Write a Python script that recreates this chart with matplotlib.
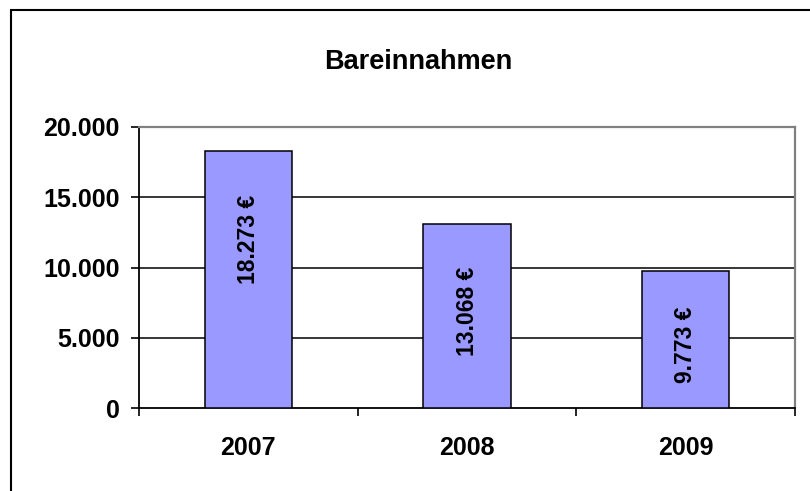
import numpy as np
import matplotlib.pyplot as plt
from matplotlib.patches import Rectangle
from matplotlib.ticker import FuncFormatter

# chart data
years = ["2007", "2008", "2009"]
values = [18273, 13068, 9773]
labels = ["18.273 €", "13.068 €", "9.773 €"]
yticks = [0, 5000, 10000, 15000, 20000]


def thousands(v, pos):
    return f"{int(v):,}".replace(",", ".")


def main():
    plt.rcParams['font.family'] = ['Liberation Sans', 'DejaVu Sans']
    fig = plt.figure(figsize=(8.1, 4.91), dpi=100)
    ax = fig.add_axes([139 / 810, 83 / 491, 656 / 810, 281 / 491])

    x = np.arange(len(years))
    ax.bar(x, values, width=0.4, color="#9999FF", edgecolor="black",
           linewidth=1.1, zorder=3)

    # value labels inside bars (Excel places them a bit irregularly)
    label_frac = [0.655, 0.525, 0.46]
    for xi, v, lab, f in zip(x, values, labels, label_frac):
        ax.text(xi, v * f, lab, rotation=90, ha="center", va="center",
                fontsize=16.5, fontweight="bold", zorder=4)

    ax.set_xlim(-0.5, len(years) - 0.5)
    ax.set_ylim(0, 20000)
    ax.set_yticks(yticks)
    ax.yaxis.set_major_formatter(FuncFormatter(thousands))

    # gridlines
    for t in yticks[1:-1]:
        ax.axhline(t, color="black", lw=1.1, zorder=1)

    ax.set_xticks(x)
    ax.set_xticklabels(years)
    ax.set_xticks(np.arange(-0.5, len(years)), minor=True)
    ax.tick_params(axis="x", which="major", length=0, pad=20,
                   labelsize=18)
    ax.tick_params(axis="x", which="minor", length=6, width=1.2,
                   direction="out", color="black")
    ax.tick_params(axis="y", length=6, width=1.2, pad=8, labelsize=18)
    for lab in ax.get_xticklabels() + ax.get_yticklabels():
        lab.set_fontweight("bold")

    ax.spines["left"].set_color("black")
    ax.spines["bottom"].set_color("black")
    ax.spines["left"].set_linewidth(1.3)
    ax.spines["bottom"].set_linewidth(1.3)
    ax.spines["top"].set_color("#808080")
    ax.spines["right"].set_color("#808080")
    ax.spines["top"].set_linewidth(1.6)
    ax.spines["right"].set_linewidth(1.6)

    fig.text(418 / 810, 1 - 62 / 491, "Bareinnahmen", ha="center",
             va="center", fontsize=19.5, fontweight="bold")

    # outer chart border (extends past right/bottom edge)
    fig.patches.append(Rectangle((10.5 / 810, -0.1), 1.0, 1.1 - 10 / 491,
                                 transform=fig.transFigure, fill=False,
                                 edgecolor="black", linewidth=1.5))

    fig.savefig("out.png", dpi=100)
    plt.close(fig)


if __name__ == "__main__":
    main()
